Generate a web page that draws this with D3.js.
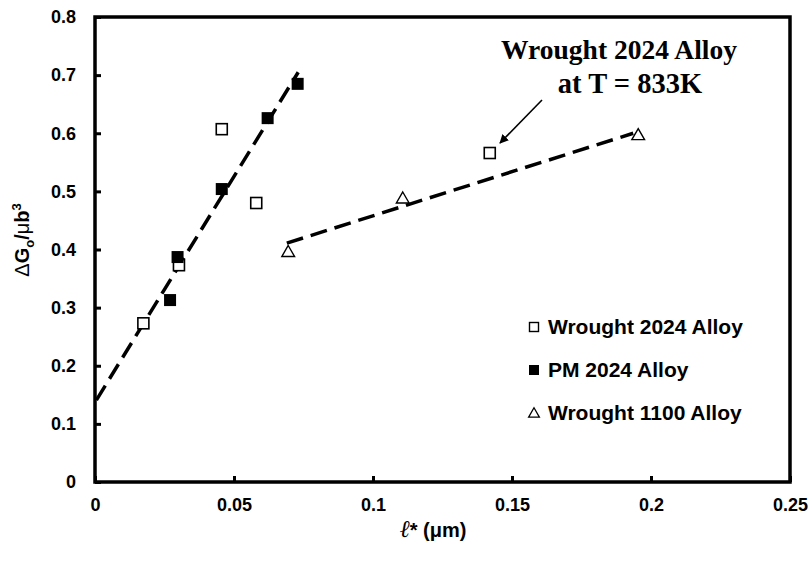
<!DOCTYPE html>
<html>
<head>
<meta charset="utf-8">
<script src="https://cdn.jsdelivr.net/npm/d3@7"></script>
<style>
  body { margin: 0; background: #fff; }
  svg { display: block; }
  .tick text { font-family: Arial, "Liberation Sans", sans-serif; font-weight: bold; font-size: 18px; }
</style>
</head>
<body>
<div id="chart"></div>
<script>
// data
const xTicks = [0, 0.05, 0.1, 0.15, 0.2, 0.25];
const yTicks = [0, 0.1, 0.2, 0.3, 0.4, 0.5, 0.6, 0.7, 0.8];

const wrought2024X = [0.0174, 0.0302, 0.0456, 0.058, 0.142];
const wrought2024Y = [0.273, 0.373, 0.607, 0.480, 0.566];

const pm2024X = [0.027, 0.0297, 0.0456, 0.0621, 0.0729];
const pm2024Y = [0.313, 0.387, 0.504, 0.626, 0.685];

const wrought1100X = [0.0695, 0.1107, 0.1954];
const wrought1100Y = [0.396, 0.488, 0.597];

// fitted trend lines (end points)
const fitPmX = [0.0005, 0.0731];
const fitPmY = [0.141, 0.705];
const fit1100X = [0.069, 0.1936];
const fit1100Y = [0.411, 0.600];

const legendLabels = ["Wrought 2024 Alloy", "PM 2024 Alloy", "Wrought 1100 Alloy"];

const width = 812, height = 561;
const margin = {top: 17, right: 22, bottom: 79, left: 95};
const w = width - margin.left - margin.right,
      h = height - margin.top - margin.bottom;

const svg = d3.select("#chart").append("svg")
    .attr("width", width).attr("height", height);
const g = svg.append("g").attr("transform", `translate(${margin.left},${margin.top})`);

const x = d3.scaleLinear().domain([0, 0.25]).range([0, w]);
const y = d3.scaleLinear().domain([0, 0.8]).range([h, 0]);

// frame
g.append("rect").attr("x", 0).attr("y", 0).attr("width", w).attr("height", h)
    .attr("fill", "none").attr("stroke", "#000").attr("stroke-width", 3.5);

const xAxis = g.append("g").attr("transform", `translate(0,${h})`)
    .call(d3.axisBottom(x).tickValues(xTicks).tickSize(-6).tickPadding(16).tickFormat(d3.format("")));
const yAxis = g.append("g")
    .call(d3.axisLeft(y).tickValues(yTicks).tickSize(-6).tickPadding(19).tickFormat(d => d === 0 ? "0" : d3.format(".1f")(d)));
[xAxis, yAxis].forEach(a => {
    a.select(".domain").remove();
    a.selectAll(".tick line").attr("stroke", "#000").attr("stroke-width", 3);
    a.selectAll(".tick text").attr("fill", "#000");
});

// dashed fits
const pts = (xs, ys) => xs.map((d, i) => [d, ys[i]]);
const line = d3.line().x(d => x(d[0])).y(d => y(d[1]));
[pts(fitPmX, fitPmY), pts(fit1100X, fit1100Y)].forEach(p => {
    g.append("path").attr("d", line(p)).attr("fill", "none")
        .attr("stroke", "#000").attr("stroke-width", 3.5).attr("stroke-dasharray", "17 8");
});

// markers
const sq = 11;
g.selectAll(".w24").data(pts(wrought2024X, wrought2024Y)).enter().append("rect")
    .attr("x", d => x(d[0]) - sq / 2).attr("y", d => y(d[1]) - sq / 2)
    .attr("width", sq).attr("height", sq)
    .attr("fill", "#fff").attr("stroke", "#000").attr("stroke-width", 1.6);
g.selectAll(".pm").data(pts(pm2024X, pm2024Y)).enter().append("rect")
    .attr("x", d => x(d[0]) - 6).attr("y", d => y(d[1]) - 6)
    .attr("width", 12).attr("height", 12).attr("fill", "#000");
const tri = d3.symbol().type(d3.symbolTriangle).size(70);
g.selectAll(".w11").data(pts(wrought1100X, wrought1100Y)).enter().append("path")
    .attr("d", tri).attr("transform", d => `translate(${x(d[0])},${y(d[1]) + 1})`)
    .attr("fill", "#fff").attr("stroke", "#000").attr("stroke-width", 1.4);

// legend
const lg = svg.append("g").attr("transform", "translate(534,327)");
const rows = lg.selectAll("g").data(legendLabels).enter().append("g")
    .attr("transform", (d, i) => `translate(0,${i * 43})`);
rows.append("text").attr("x", 14).attr("y", 7).text(d => d)
    .attr("font-family", "Arial, 'Liberation Sans', sans-serif")
    .attr("font-weight", "bold").attr("font-size", 21);
rows.each(function(d, i) {
    const r = d3.select(this);
    if (i === 0) r.append("rect").attr("x", -4.5).attr("y", -4.5).attr("width", 9).attr("height", 9)
        .attr("fill", "#fff").attr("stroke", "#000").attr("stroke-width", 1.4);
    if (i === 1) r.append("rect").attr("x", -5).attr("y", -5).attr("width", 10).attr("height", 10).attr("fill", "#000");
    if (i === 2) r.append("path").attr("d", d3.symbol().type(d3.symbolTriangle).size(50))
        .attr("transform", "translate(0,1)").attr("fill", "#fff").attr("stroke", "#000").attr("stroke-width", 1.3);
});

// annotation
const ann = svg.append("g").attr("font-family", "'Liberation Serif', 'Times New Roman', serif")
    .attr("font-weight", "bold").attr("text-anchor", "middle");
ann.append("text").attr("x", 619).attr("y", 59).attr("font-size", 27.5).text("Wrought 2024 Alloy");
ann.append("text").attr("x", 630).attr("y", 93).attr("font-size", 28.5).text("at T = 833K");

svg.append("defs").append("marker").attr("id", "ah")
    .attr("viewBox", "0 0 10 10").attr("refX", 9).attr("refY", 5)
    .attr("markerWidth", 9).attr("markerHeight", 9).attr("markerUnits", "userSpaceOnUse")
    .attr("orient", "auto")
    .append("path").attr("d", "M0,0 L10,5 L0,10 z").attr("fill", "#000");
svg.append("line").attr("x1", 542).attr("y1", 100).attr("x2", 500).attr("y2", 143)
    .attr("stroke", "#000").attr("stroke-width", 1.6).attr("marker-end", "url(#ah)");

// axis titles
const xt = svg.append("text").attr("x", 433).attr("y", 537).attr("text-anchor", "middle")
    .attr("font-family", "Arial, 'Liberation Sans', sans-serif").attr("font-weight", "bold").attr("font-size", 20);
xt.append("tspan").text("ℓ").attr("font-family", "'DejaVu Serif', serif").attr("font-weight", "normal")
    .attr("font-style", "italic").attr("font-size", 24);
xt.append("tspan").text("* (μm)");

const yt = svg.append("text").attr("transform", "translate(29,240) rotate(-90)").attr("text-anchor", "middle")
    .attr("font-family", "Arial, 'Liberation Sans', sans-serif").attr("font-weight", "bold").attr("font-size", 20);
yt.append("tspan").text("Δ").attr("font-weight", "normal");
yt.append("tspan").text("G");
yt.append("tspan").text("o").attr("font-size", 13).attr("dy", 5);
yt.append("tspan").text("/").attr("dy", -5);
yt.append("tspan").text("μ").attr("font-weight", "normal");
yt.append("tspan").text("b");
yt.append("tspan").text("3").attr("font-size", 13).attr("dy", -8);
</script>
</body>
</html>
